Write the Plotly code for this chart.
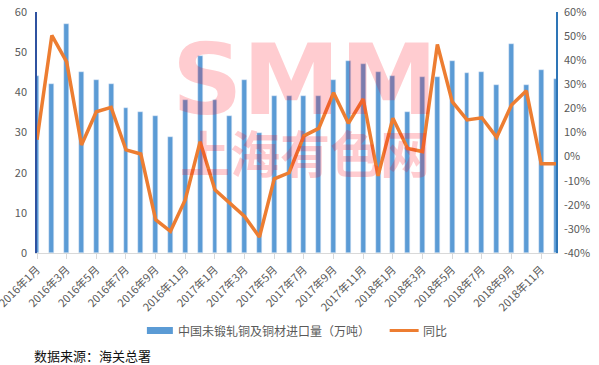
import plotly.graph_objects as go

months = [
    "2016年1月", "2016年2月", "2016年3月", "2016年4月", "2016年5月", "2016年6月",
    "2016年7月", "2016年8月", "2016年9月", "2016年10月", "2016年11月", "2016年12月",
    "2017年1月", "2017年2月", "2017年3月", "2017年4月", "2017年5月", "2017年6月",
    "2017年7月", "2017年8月", "2017年9月", "2017年10月", "2017年11月", "2017年12月",
    "2018年1月", "2018年2月", "2018年3月", "2018年4月", "2018年5月", "2018年6月",
    "2018年7月", "2018年8月", "2018年9月", "2018年10月", "2018年11月", "2018年12月",
]
imports = [44, 42, 57, 45, 43, 42, 36, 35, 34, 29, 38, 49,
           38, 34, 43, 30, 39, 39, 39, 39, 43, 47.8, 47, 45,
           44, 35.1, 43.8, 43.8, 47.8, 44.8, 45, 41.8, 52, 41.8, 45.5, 43.3]
yoy = [0.07, 0.503, 0.393, 0.048, 0.186, 0.204, 0.028, 0.011, -0.262, -0.31, -0.179, 0.062,
       -0.138, -0.193, -0.248, -0.334, -0.092, -0.067, 0.086, 0.117, 0.265, 0.138, 0.239, -0.08,
       0.159, 0.034, 0.021, 0.465, 0.228, 0.152, 0.161, 0.08, 0.214, 0.273, -0.03, -0.03]
y2_tickvals = [-0.4, -0.3, -0.2, -0.1, 0, 0.1, 0.2, 0.3, 0.4, 0.5, 0.6]
y2_ticktext = ["-40%", "-30%", "-20%", "-10%", "0%", "10%", "20%", "30%", "40%", "50%", "60%"]

bar_name = "中国未锻轧铜及铜材进口量（万吨）"
line_name = "同比"
source_text = "数据来源：海关总署"

W, H = 599, 365
L, R, T, B = 37, 42.5, 12, 112
PW, PH = W - L - R, H - T - B


def px(x):
    return (x - L) / PW


def py(y):
    return (H - B - y) / PH


FONT = "Noto Sans CJK SC, Noto Sans, sans-serif"
GRAY = "#595959"

fig = go.Figure()
fig.add_trace(go.Bar(x=months, y=imports, name=bar_name, marker_color="#5B9BD5",
                     width=0.33, yaxis="y"))
fig.add_trace(go.Scatter(x=months, y=yoy, name=line_name, mode="lines",
                         line=dict(color="#ED7D31", width=3.5), yaxis="y2"))

fig.update_layout(
    width=W, height=H,
    margin=dict(l=L, r=R, t=T, b=B, autoexpand=False),
    paper_bgcolor="white", plot_bgcolor="white",
    showlegend=False,
    font=dict(family=FONT, color=GRAY, size=11),
    xaxis=dict(type="category", range=[0, 35], dtick=2, tick0=0, automargin=False,
               tickangle=-45, showgrid=False, showline=True, linecolor="#D9D9D9",
               linewidth=1, ticks="outside", ticklen=5, tickcolor="#D9D9D9",
               tickfont=dict(size=11, color=GRAY), zeroline=False),
    yaxis=dict(range=[0, 60], dtick=10, showgrid=False, zeroline=False, automargin=False,
               showline=True, linecolor="#2F52A0", linewidth=1.5,
               tickfont=dict(size=11, color=GRAY), ticks="", ticklabelstandoff=6),
    yaxis2=dict(range=[-0.4, 0.6], overlaying="y", side="right", automargin=False,
                tickvals=y2_tickvals, ticktext=y2_ticktext,
                showgrid=False, zeroline=False, showline=True,
                linecolor="#2E75B6", linewidth=1.5,
                tickfont=dict(size=11, color=GRAY), ticks="", ticklabelstandoff=4),
    bargap=0,
)

# watermark
wm = "rgba(255,0,20,0.2)"
fig.add_annotation(xref="paper", yref="paper", x=px(305), y=py(80),
                   xanchor="center", yanchor="middle",
                   text="<b>SMM</b>", showarrow=False,
                   font=dict(family="DejaVu Sans, sans-serif", size=98, color=wm))
fig.add_annotation(xref="paper", yref="paper", x=px(305), y=py(151),
                   xanchor="center", yanchor="middle",
                   text="<b>上海有色网</b>", showarrow=False,
                   font=dict(family="Noto Sans CJK SC", size=50, color=wm))

# custom legend
fig.add_shape(type="rect", xref="paper", yref="paper",
              x0=px(147), x1=px(173), y0=py(334), y1=py(327),
              fillcolor="#5B9BD5", line=dict(width=0))
fig.add_annotation(xref="paper", yref="paper", x=px(176), y=py(330.5), xanchor="left",
                   yanchor="middle", text=bar_name, showarrow=False,
                   font=dict(family=FONT, size=12, color=GRAY))
fig.add_shape(type="line", xref="paper", yref="paper",
              x0=px(390), x1=px(419), y0=py(330.5), y1=py(330.5),
              line=dict(color="#ED7D31", width=3))
fig.add_annotation(xref="paper", yref="paper", x=px(421), y=py(330.5), xanchor="left",
                   yanchor="middle", text=line_name, showarrow=False,
                   font=dict(family=FONT, size=12, color=GRAY))

fig.add_annotation(xref="paper", yref="paper", x=px(32), y=py(355), xanchor="left",
                   yanchor="middle", text=source_text, showarrow=False,
                   font=dict(family=FONT, size=13, color="#111111"))

fig.write_html("out.html", config={"displayModeBar": False},
               post_script="document.body.style.margin='0';document.body.style.overflow='hidden';")
